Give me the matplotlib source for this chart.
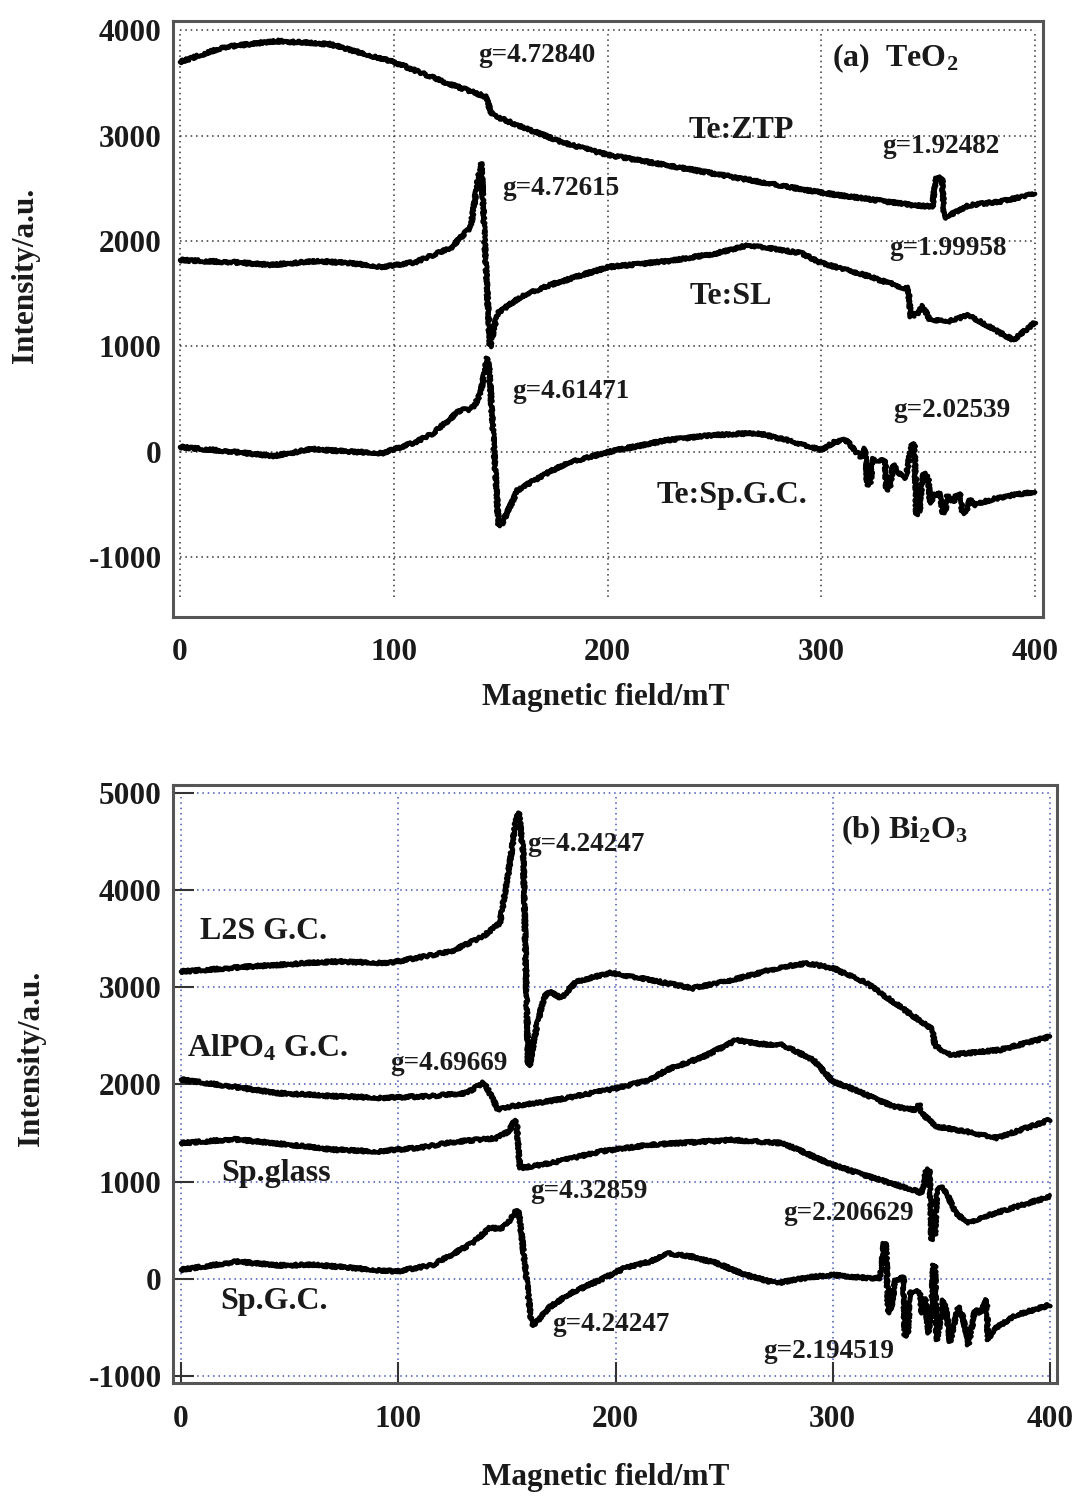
import matplotlib
matplotlib.use('Agg')
import matplotlib.pyplot as plt
import numpy as np

plt.rcParams['font.family'] = ['Liberation Serif', 'DejaVu Serif']
plt.rcParams['font.weight'] = 'bold'
plt.rcParams['axes.unicode_minus'] = False
plt.rcParams['path.simplify'] = False
plt.rcParams['mathtext.fontset'] = 'custom'
plt.rcParams['mathtext.rm'] = 'Liberation Serif:bold'
plt.rcParams['mathtext.it'] = 'Liberation Serif:bold'
plt.rcParams['mathtext.bf'] = 'Liberation Serif:bold'

# ---- panel (a) TeO2 : EPR traces ----
ztp_x = [0, 20, 45, 70, 100, 125, 140.5, 143, 146, 158, 180, 200, 250, 300,
         343.5, 352, 353.5, 356.5, 357.5, 369, 385, 400]
ztp_y = [3700, 3840, 3900, 3870, 3700, 3500, 3390, 3370, 3200, 3100, 2930, 2820,
         2640, 2460, 2340, 2330, 2600, 2600, 2220, 2340, 2380, 2450]

sl_x = [0, 25, 42, 65, 80, 95, 110, 126.5, 136, 139.5, 141, 142.5, 145, 148.5,
        160, 173, 200, 228, 250, 266, 280, 290.5, 300, 320, 339, 340.5, 342, 346,
        347, 351, 360, 369, 380, 390, 400]
sl_y = [1820, 1800, 1775, 1810, 1790, 1755, 1800, 1934, 2133, 2600, 2740, 2000,
        994, 1317, 1480, 1583, 1753, 1810, 1880, 1962, 1920, 1887, 1792, 1680,
        1554, 1560, 1280, 1330, 1393, 1250, 1240, 1298, 1170, 1060, 1231]

spgc_a_x = [0, 20, 43.6, 62, 80, 95, 110, 118.6, 131, 135, 137.5, 140.6, 143.7,
            144.5, 149, 150.5, 158, 170, 181, 200, 228, 250, 270, 284, 300, 306,
            311.6, 318.6, 320.5, 321.5, 323, 324, 326, 329.8, 330.5, 332, 333.7,
            336, 339.2, 340, 342.3, 343.5, 344.5, 346, 347, 348, 350, 351, 352.4,
            355, 357, 358, 359, 361.8, 363, 365, 366, 368, 369.6, 371.2, 380, 390,
            400]
spgc_a_y = [45, 10, -40, 26, 0, -12, 90, 178, 396, 400, 430, 557, 890, 850, -696,
            -690, -363, -220, -107, -3, 111, 160, 178, 111, 16, 92, 113, -56, 32,
            -316, -300, -60, -79, -79, -363, -340, -120, -200, -253, -200, 80, 80,
            -601, -560, -300, -200, -250, -490, -420, -380, -585, -560, -420, -480,
            -420, -400, -585, -560, -450, -506, -450, -410, -380]

# ---- panel (b) Bi2O3 ----
l2s_x = [0, 31.8, 70, 96, 124, 139, 146.8, 151.4, 154, 155.5, 157.5, 159.8, 160.5,
         163.7, 166, 168, 169.8, 175, 182, 197.5, 215, 235.7, 254, 275, 288, 300,
         315.6, 346, 347, 354, 377, 400]
l2s_y = [3161, 3213, 3264, 3250, 3367, 3522, 3662, 4280, 4700, 4794, 4383, 2202,
         2202, 2596, 2800, 2930, 2956, 2890, 3059, 3148, 3080, 2990, 3076, 3200,
         3248, 3198, 3043, 2562, 2400, 2304, 2356, 2493]

alpo_x = [0, 20, 44, 70, 93, 115, 131.5, 139, 140.5, 146, 151.4, 170, 185, 200,
          216, 223.6, 240, 255.8, 265, 277, 291, 300, 308, 320, 328, 338, 340,
          341, 348, 361.6, 375.5, 390, 400]
alpo_y = [2050, 1990, 1913, 1880, 1862, 1880, 1913, 2016, 1980, 1739, 1773, 1830,
          1893, 1960, 2047, 2150, 2280, 2459, 2420, 2407, 2253, 2030, 1965, 1850,
          1773, 1740, 1800, 1700, 1567, 1515, 1450, 1560, 1636]

spgl_x = [0, 24, 50, 70, 90, 110, 127, 145, 151, 153.7, 154.5, 156, 170, 193, 216,
          254, 277, 300, 320, 337, 341, 343, 344.5, 345.5, 347, 348, 350, 352.4,
          356, 361.6, 370, 377, 390, 400]
spgl_y = [1396, 1437, 1380, 1330, 1310, 1350, 1413, 1447, 1520, 1636, 1600, 1139,
          1190, 1310, 1379, 1430, 1396, 1173, 1030, 916, 880, 1121, 1121, 401,
          450, 900, 950, 885, 700, 576, 640, 693, 780, 847]

spgc_b_x = [0, 25.6, 45, 62.5, 80, 99, 116, 134, 142, 148, 152, 154.5, 155.5,
            161.4, 163, 170, 180, 193, 205, 216, 223.6, 235, 246.6, 260, 274, 290,
            300, 315, 321.7, 323.5, 324.5, 325.5, 327, 328.7, 331, 332.5, 333.2,
            334.5, 335.6, 338, 340, 341, 342.5, 344, 345.5, 346.3, 347, 347.8, 349,
            350.9, 352, 354, 355.5, 357.8, 360, 362.4, 364, 365.5, 368, 370.8,
            371.5, 373, 374.7, 384.7, 400]
spgc_b_y = [93, 178, 140, 144, 110, 75, 144, 367, 522, 522, 620, 710, 700, -473,
            -460, -285, -140, -10, 120, 178, 264, 230, 161, 40, -44, 20, 41, 10, 7,
            367, 367, -353, -300, -10, 0, 24, -593, -560, -147, -120, -150, -353,
            -200, -559, -300, 144, 144, -628, -500, -216, -300, -645, -500, -285,
            -400, -679, -500, -319, -350, -216, -628, -560, -507, -370, -267]

ticks_x = [0, 100, 200, 300, 400]
ticks_a = [-1000, 0, 1000, 2000, 3000, 4000]
ticks_b = [-1000, 0, 1000, 2000, 3000, 4000, 5000]

ink = '#1a1a1a'
fig = plt.figure(figsize=(10.77, 14.97), dpi=100)
ax1 = fig.add_axes([0.1604, 0.5876, 0.8078, 0.3985])
ax2 = fig.add_axes([0.1606, 0.0762, 0.8208, 0.3995])


def trace(ax, x, y):
    ln, = ax.plot(x, y, color='black', lw=3.3, solid_joinstyle='round',
                  solid_capstyle='round', zorder=3)
    # jittery pen to mimic the noisy spectrometer trace
    ln.set_sketch_params(scale=1.4, length=1.5, randomness=2)


for x, y in [(ztp_x, ztp_y), (sl_x, sl_y), (spgc_a_x, spgc_a_y)]:
    trace(ax1, x, y)
for x, y in [(l2s_x, l2s_y), (alpo_x, alpo_y), (spgl_x, spgl_y), (spgc_b_x, spgc_b_y)]:
    trace(ax2, x, y)

# dotted grids inside the data box
ax1.hlines(ticks_a, 0, 400, colors='#333333', linestyles=(0, (1, 2.5)), lw=1.1, zorder=1)
ax1.vlines(ticks_x, -1380, 4000, colors='#333333', linestyles=(0, (1, 2.5)), lw=1.1, zorder=1)
ax2.hlines(ticks_b, 0, 400, colors='#4455bb', linestyles=(0, (1, 2.5)), lw=1.1, zorder=1)
ax2.vlines(ticks_x, -1000, 5000, colors='#4455bb', linestyles=(0, (1, 2.5)), lw=1.1, zorder=1)

ax1.set_xlim(-3.4, 403.6)
ax1.set_ylim(-1572, 4092)
ax2.set_xlim(-3.7, 403.2)
ax2.set_ylim(-1070, 5082)

for ax, yt in [(ax1, ticks_a), (ax2, ticks_b)]:
    ax.set_xticks(ticks_x)
    ax.set_yticks(yt)
    for s in ax.spines.values():
        s.set_color('#555555')
        s.set_linewidth(2.2)
    ax.tick_params(labelsize=22.5, colors=ink, labelcolor=ink)
    ax.tick_params(axis='x', pad=15)
    ax.tick_params(axis='y', pad=8)

ax1.tick_params(length=0)
ax2.tick_params(direction='in', length=15, width=1.5, color='#333333')
ax2.tick_params(axis='x', pad=16)

ga = dict(fontsize=19.5, color=ink, va='center', ha='left')
ax1.text(139.4, 3766, 'g=4.72840', **ga)
ax1.text(150.6, 2502, 'g=4.72615', **ga)
ax1.text(328.3, 2896, 'g=1.92482', **ga)
ax1.text(332, 1931, 'g=1.99958', **ga)
ax1.text(155.2, 570, 'g=4.61471', **ga)
ax1.text(333.6, 396, 'g=2.02539', **ga)
lab = dict(fontsize=23, color=ink, va='center')
ax1.text(262.5, 3054, 'Te:ZTP', ha='center', **lab)
ax1.text(257.7, 1472, 'Te:SL', ha='center', **lab)
ax1.text(258, -411, 'Te:Sp.G.C.', ha='center', **lab)
ax1.text(305, 3738, '(a)  TeO$_2$', ha='left', **lab)

ax2.text(159.3, 4465, 'g=4.24247', **ga)
ax2.text(96.2, 2219, 'g=4.69669', **ga)
ax2.text(160.6, 898, 'g=4.32859', **ga)
ax2.text(277, 676, 'g=2.206629', **ga)
ax2.text(171, -473, 'g=4.24247', **ga)
ax2.text(268, -748, 'g=2.194519', **ga)
ax2.text(8.7, 3573, 'L2S G.C.', ha='left', **lab)
ax2.text(2.6, 2373, 'AlPO$_4$ G.C.', ha='left', **lab)
ax2.text(18.7, 1087, 'Sp.glass', ha='left', **lab)
ax2.text(18, -233, 'Sp.G.C.', ha='left', **lab)
ax2.text(304, 4619, '(b) Bi$_2$O$_3$', ha='left', **lab)

fig.text(606 / 1077, 1 - 698 / 1497, 'Magnetic field/mT', fontsize=22.5, color=ink,
         ha='center', va='center')
fig.text(606 / 1077, 1 - 1478 / 1497, 'Magnetic field/mT', fontsize=22.5, color=ink,
         ha='center', va='center')
fig.text(26 / 1077, 1 - 275 / 1497, 'Intensity/a.u.', fontsize=22.5, color=ink,
         ha='center', va='center', rotation=90)
fig.text(32 / 1077, 1 - 1058 / 1497, 'Intensity/a.u.', fontsize=22.5, color=ink,
         ha='center', va='center', rotation=90)

fig.savefig('out.png', dpi=100, facecolor='white')
